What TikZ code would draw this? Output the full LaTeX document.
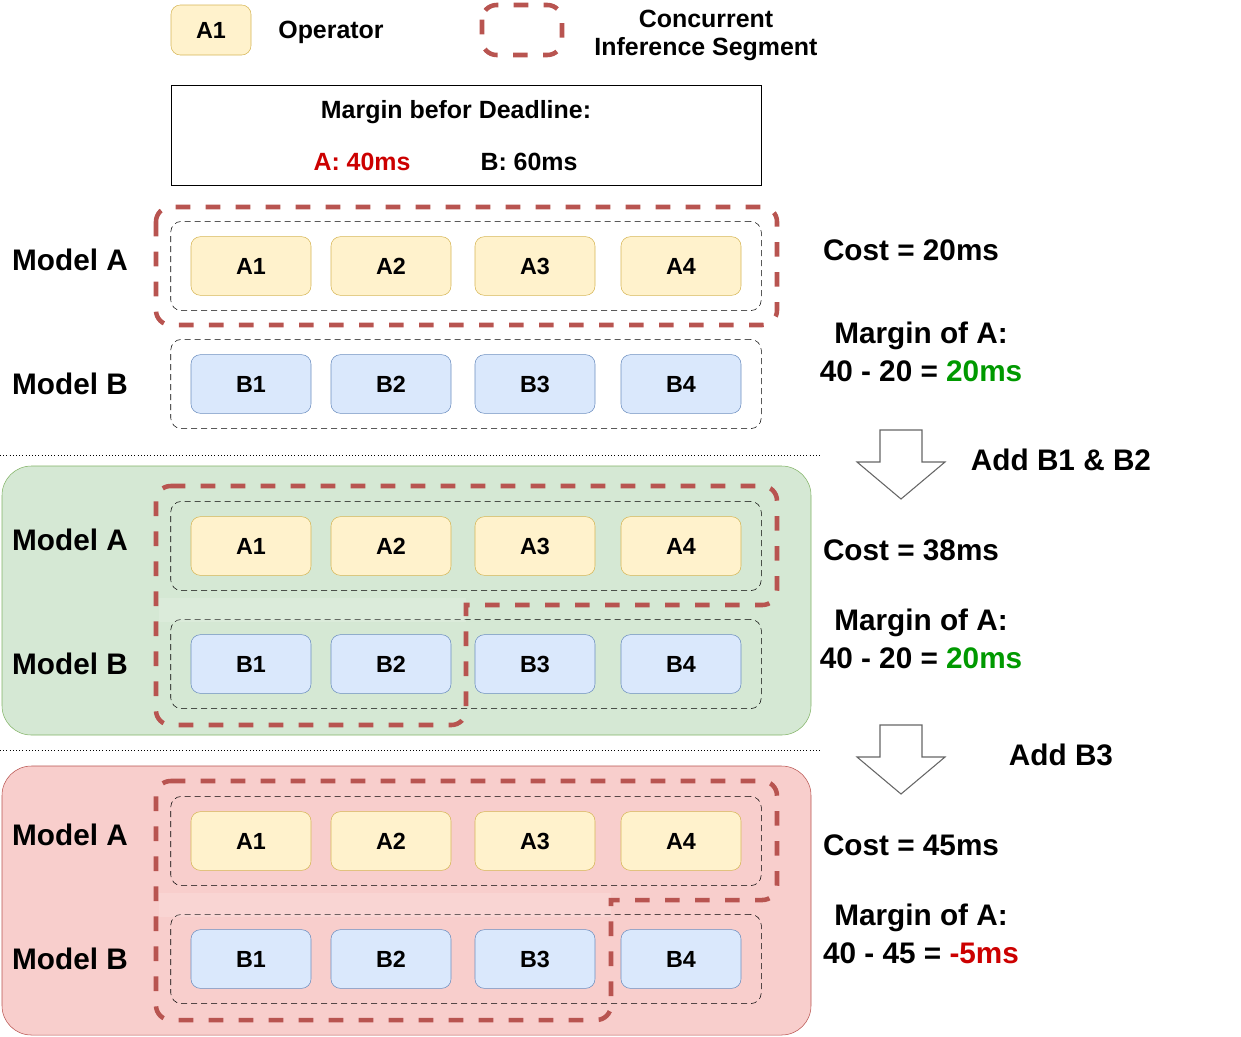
\documentclass[tikz,border=0pt]{standalone}
\usepackage{fontspec}
\setmainfont{Liberation Sans}
\usetikzlibrary{positioning,fit}
\definecolor{opAfill}{HTML}{FFF2CC}
\definecolor{opAline}{HTML}{D6B656}
\definecolor{opBfill}{HTML}{DAE8FC}
\definecolor{opBline}{HTML}{6C8EBF}
\definecolor{segred}{HTML}{B85450}
\definecolor{okfill}{HTML}{D5E8D4}
\definecolor{okline}{HTML}{82B366}
\definecolor{badfill}{HTML}{F8CECC}
\definecolor{badline}{HTML}{B85450}
\definecolor{txtred}{HTML}{CC0000}
\definecolor{txtgreen}{HTML}{009900}
\tikzstyle{op}=[draw,rounded corners=7pt,minimum width=90pt,minimum height=44pt,font=\fontsize{17.5}{21}\selectfont\bfseries]
\tikzstyle{opA}=[op,fill=opAfill,draw=opAline]
\tikzstyle{opB}=[op,fill=opBfill,draw=opBline]
\tikzstyle{opgroup}=[draw,dash pattern=on 4.5pt off 3pt,rounded corners=8pt,inner xsep=15pt,inner ysep=11.25pt]
\tikzstyle{segment}=[draw=segred,line width=3.4pt,dash pattern=on 11pt off 11.5pt,rounded corners=11pt]
\tikzstyle{big}=[font=\fontsize{22.3}{26}\selectfont\bfseries]
\tikzstyle{small}=[font=\fontsize{18.7}{22}\selectfont\bfseries]
\tikzstyle{blockarrow}=[draw=black!60,fill=white,line width=0.8pt]
\newcommand{\newOp}[4]{\node[#3](#1) at (#4){#2};}
\begin{document}
\begin{tikzpicture}[x=0.75pt,y=-0.75pt]
    \useasboundingbox (0,0) rectangle (1241,1036);
    % legend
    \newOp{legOp}{A1}{opA,minimum width=60pt,minimum height=37.5pt}{211,30}
    \node[small] (legOpText) at (331,32) {Operator};
    \draw[segment] (482,5) rectangle (562,55);
    \node[small,align=center] (legSegText) at (706,35) {Concurrent\\[-1pt]Inference Segment};
    \draw (171,85) rectangle (761,185);
    \node[small] (deadline) at (456,112) {Margin befor Deadline:};
    \node[small,text=txtred] (marginA) at (362,162) {A: 40ms};
    \node[small] (marginB) at (529,162) {B: 60ms};
    % panels
    \draw[okline,fill=okfill,rounded corners=22pt] (2,466) rectangle (811,735);
    \draw[badline,fill=badfill,rounded corners=22pt] (2,766) rectangle (811,1035);
    \draw[dotted] (0,455) -- (820,455);
    \draw[dotted] (0,750) -- (820,750);
    % three states
    \foreach \s/\ya/\yb in {1/266/384, 2/546/664, 3/841/959} {
        \node[big] (s\s mA) at (70,\ya-6) {Model A};
        \node[big] (s\s mB) at (70,\yb) {Model B};
        \foreach \i/\x in {1/251, 2/391, 3/535, 4/681} {
            \newOp{s\s A\i}{A\i}{opA}{\x,\ya}
            \newOp{s\s B\i}{B\i}{opB}{\x,\yb}
        }
        \node[opgroup,fit=(s\s A1)(s\s A4)] (s\s gA) {};
        \node[opgroup,fit=(s\s B1)(s\s B4)] (s\s gB) {};
    }
    \fill[white,opacity=0.15] (159,598) rectangle (466,622);
    \fill[white,opacity=0.15] (159,893) rectangle (611,917);
    % segments
    \draw[segment] (156,207) rectangle (777,325);
    \draw[segment] (156,486) -- (777,486) -- (777,605) [sharp corners] -- (466,605) [rounded corners=11pt] -- (466,725) -- (156,725) -- cycle;
    \draw[segment] (156,781) -- (777,781) -- (777,900) [sharp corners] -- (611,900) [rounded corners=11pt] -- (611,1020) -- (156,1020) -- cycle;
    % steps
    \draw[blockarrow] (880,430) -- ++(42,0) -- ++(0,32) -- ++(23,0) -- (901,499) -- (857,462) -- (880,462) -- cycle;
    \draw[blockarrow] (880,725) -- ++(42,0) -- ++(0,32) -- ++(23,0) -- (901,794) -- (857,757) -- (880,757) -- cycle;
    \node[big] (add1) at (1061,460) {Add B1 \& B2};
    \node[big] (add2) at (1061,755) {Add B3};
    % costs
    \node[big] (cost1) at (911,250) {Cost = 20ms};
    \node[big] (mar1) at (921,336) {Margin of A:};
    \node[big] (eq1) at (921,371) {40 - 20 = \textcolor{txtgreen}{20ms}};
    \node[big] (cost2) at (911,550) {Cost = 38ms};
    \node[big] (mar2) at (921,623) {Margin of A:};
    \node[big] (eq2) at (921,658) {40 - 20 = \textcolor{txtgreen}{20ms}};
    \node[big] (cost3) at (911,845) {Cost = 45ms};
    \node[big] (mar3) at (921,918) {Margin of A:};
    \node[big] (eq3) at (921,953) {40 - 45 = \textcolor{txtred}{-5ms}};
\end{tikzpicture}
\end{document}
